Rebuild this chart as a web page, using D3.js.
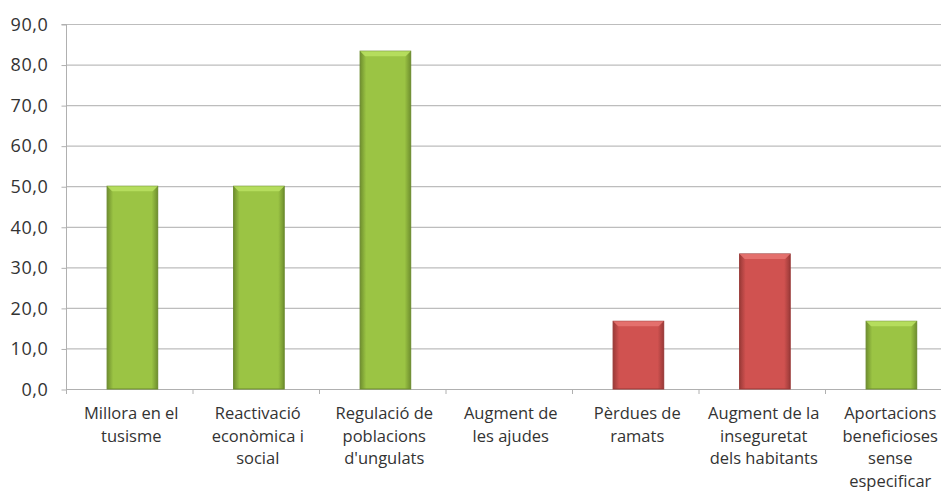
<!DOCTYPE html>
<html>
<head>
<meta charset="utf-8">
<script src="https://cdn.jsdelivr.net/npm/d3@7"></script>
<style>
  body { margin: 0; background: #fff; }
  svg { display: block; }
  text { font-family: "Open Sans", "Noto Sans", sans-serif; fill: #333; }
</style>
</head>
<body>
<svg id="chart" width="941" height="493"></svg>
<script>
var categories = [
  ['Millora en el', 'tusisme'],
  ['Reactivació', 'econòmica i', 'social'],
  ['Regulació de', 'poblacions', "d'ungulats"],
  ['Augment de', 'les ajudes'],
  ['Pèrdues de', 'ramats'],
  ['Augment de la', 'inseguretat', 'dels habitants'],
  ['Aportacions', 'beneficioses', 'sense', 'especificar']
];
var values = [50.0, 50.0, 83.3, 0, 16.7, 33.3, 16.7];
var kinds = ['pos', 'pos', 'pos', 'pos', 'neg', 'neg', 'pos'];
var yTicks = [0, 10, 20, 30, 40, 50, 60, 70, 80, 90];

var svg = d3.select('#chart');
var plotLeft = 66, plotTop = 24, plotBase = 389;
var step = 126.5, pIn = 0.6, pOut = 0.325;

var x = d3.scaleBand()
  .domain(d3.range(categories.length))
  .range([plotLeft, plotLeft + step * (categories.length - pIn + 2 * pOut)])
  .paddingInner(pIn)
  .paddingOuter(pOut);

var y = d3.scaleLinear()
  .domain([0, 90])
  .range([plotBase, plotTop]);

var defs = svg.append('defs');
function makeGrad(id, edge, mid) {
  var g = defs.append('linearGradient').attr('id', id)
    .attr('x1', '0%').attr('x2', '100%').attr('y1', '0%').attr('y2', '0%');
  g.append('stop').attr('offset', '0%').attr('stop-color', edge);
  g.append('stop').attr('offset', '12%').attr('stop-color', mid);
  g.append('stop').attr('offset', '88%').attr('stop-color', mid);
  g.append('stop').attr('offset', '100%').attr('stop-color', edge);
}
makeGrad('gpos', '#6f8f2e', '#9bc444');
makeGrad('gneg', '#9a3a38', '#d05250');

var colors = {
  pos: {fill: 'url(#gpos)', top: '#b8e060', stroke: '#6a8a2c'},
  neg: {fill: 'url(#gneg)', top: '#e57370', stroke: '#983634'}
};

// gridlines
svg.append('g')
  .selectAll('line')
  .data(yTicks)
  .join('line')
  .attr('x1', plotLeft)
  .attr('x2', 941)
  .attr('y1', function(d) { return y(d) + 0.5; })
  .attr('y2', function(d) { return y(d) + 0.5; })
  .attr('stroke', '#bdbdbd')
  .attr('stroke-width', 1.2);

// y axis
var yAxis = d3.axisLeft(y)
  .tickValues(yTicks)
  .tickSize(5)
  .tickFormat(function(d) { return d3.format('.1f')(d).replace('.', ','); });
var gy = svg.append('g')
  .attr('transform', 'translate(' + (plotLeft + 0.5) + ',0.5)')
  .call(yAxis);
gy.select('.domain').attr('stroke', '#b0b0b0').attr('d', 'M-5,' + y(90) + 'H0V' + y(0));
gy.selectAll('.tick line').attr('stroke', '#b0b0b0');
gy.selectAll('.tick text')
  .attr('x', -18)
  .style('font-size', '18px')
  .style('letter-spacing', '0.6px')
  .style('font-family', '"Open Sans", sans-serif')
  .attr('fill', '#333');

// x axis baseline and ticks
var slots = d3.range(categories.length + 1).map(function(i) {
  return plotLeft + i * x.step();
});
svg.append('line')
  .attr('x1', plotLeft).attr('x2', 941)
  .attr('y1', y(0) + 0.5).attr('y2', y(0) + 0.5)
  .attr('stroke', '#b0b0b0').attr('stroke-width', 1.2);
svg.append('g')
  .selectAll('line')
  .data(slots)
  .join('line')
  .attr('x1', function(d) { return d + 0.5; })
  .attr('x2', function(d) { return d + 0.5; })
  .attr('y1', y(0))
  .attr('y2', y(0) + 5)
  .attr('stroke', '#b0b0b0');

// bars
var bars = svg.append('g')
  .selectAll('g')
  .data(values.map(function(v, i) { return {v: v, i: i, k: kinds[i]}; }).filter(function(d) { return d.v > 0; }))
  .join('g');

bars.append('rect')
  .attr('x', function(d) { return x(d.i); })
  .attr('y', function(d) { return y(d.v); })
  .attr('width', x.bandwidth())
  .attr('height', function(d) { return y(0) - y(d.v); })
  .attr('fill', function(d) { return colors[d.k].fill; })
  .attr('stroke', function(d) { return colors[d.k].stroke; })
  .attr('stroke-width', 1);

// top bevel
bars.append('path')
  .attr('d', function(d) {
    var x0 = x(d.i), x1 = x0 + x.bandwidth(), t = y(d.v);
    return 'M' + x0 + ',' + t + 'H' + x1 + 'L' + (x1 - 5) + ',' + (t + 5) + 'H' + (x0 + 5) + 'Z';
  })
  .attr('fill', function(d) { return colors[d.k].top; })
  .attr('opacity', 0.9);

// category labels (centred on the slot, as in the original)
var labels = svg.append('g')
  .selectAll('text')
  .data(categories)
  .join('text')
  .attr('x', function(d, i) { return plotLeft + (i + 0.5) * x.step() + 2; })
  .attr('y', 419)
  .attr('text-anchor', 'middle')
  .style('font-size', '16.5px');
labels.selectAll('tspan')
  .data(function(d) { return d; })
  .join('tspan')
  .attr('x', function() { return d3.select(this.parentNode).attr('x'); })
  .attr('dy', function(d, j) { return j === 0 ? 0 : 22.5; })
  .text(function(d) { return d; });
</script>
</body>
</html>
